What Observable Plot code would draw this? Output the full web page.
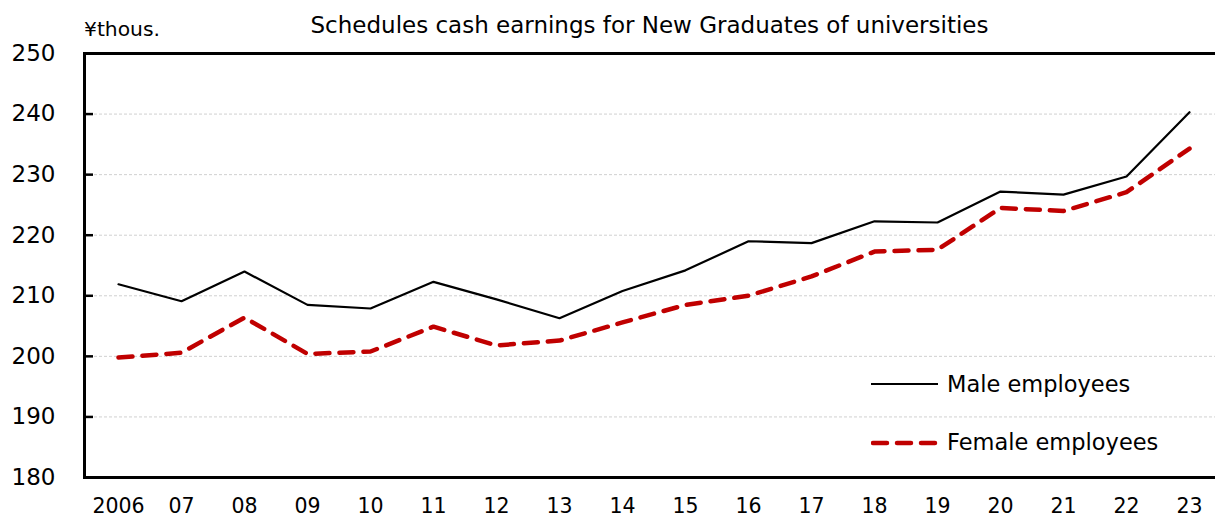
<!DOCTYPE html>
<html><head><meta charset="utf-8">
<script src="https://cdn.jsdelivr.net/npm/d3@7"></script>
<script src="https://cdn.jsdelivr.net/npm/@observablehq/plot@0.6"></script>
<style>
body{margin:0;background:#fff;font-family:"DejaVu Sans",sans-serif;color:#000;}
#wrap{position:relative;width:1215px;height:519px;overflow:hidden;}
#title{position:absolute;left:84px;right:0;top:12px;text-align:center;font-size:23px;}
#unit{position:absolute;left:84px;top:17px;font-size:20.3px;}
.leg{position:absolute;left:871px;height:30px;display:flex;align-items:center;font-size:22.5px;white-space:nowrap;}
.leg svg{margin-right:9px;}
</style></head><body>
<div id="wrap">
  <div id="chart"></div>
  <div id="title">Schedules cash earnings for New Graduates of universities</div>
  <div id="unit">¥thous.</div>
  <div id="legend"></div>
</div>
<script>
const years = ["2006","2007","2008","2009","2010","2011","2012","2013","2014","2015","2016","2017","2018","2019","2020","2021","2022","2023"];
const yearLabels = ["2006","07","08","09","10","11","12","13","14","15","16","17","18","19","20","21","22","23"];
const male   = [211.9,209.1,214.0,208.5,207.9,212.3,209.4,206.3,210.8,214.2,219.0,218.7,222.3,222.1,227.2,226.7,229.7,240.3];
const female = [199.8,200.6,206.4,200.4,200.8,204.9,201.8,202.6,205.6,208.5,210.0,213.2,217.3,217.6,224.5,224.0,227.1,234.3];
const yTicks = [180,190,200,210,220,230,240,250];
const gridTicks = [190,200,210,220,230,240];
const seriesNames = ["Male employees","Female employees"];
const seriesColors = ["#000000","#c00000"];

const W = 1215, H = 519, mL = 84, mT = 53, mB = 42;
const maleData = years.map((yr, i) => ({year: yr, value: male[i]}));
const femaleData = years.map((yr, i) => ({year: yr, value: female[i]}));

const chart = Plot.plot({
  width: W, height: H,
  marginLeft: mL, marginRight: 0, marginTop: mT, marginBottom: mB,
  style: {fontFamily: "DejaVu Sans", background: "#fff", color: "#000"},
  x: {type: "point", domain: years, range: [mL - 1, W + 8], padding: 0.5},
  y: {domain: [180, 250]},
  marks: [
    Plot.ruleY(gridTicks, {stroke: "#d0d0d0", strokeDasharray: "3,2", strokeWidth: 1}),
    Plot.tickY(yTicks, {stroke: "#000", strokeWidth: 2.5, insetRight: W - mL - 9}),
    Plot.axisY({ticks: yTicks, tickSize: 0, tickPadding: 29, fontSize: 23, label: null}),
    Plot.axisX({ticks: years, tickFormat: d => yearLabels[years.indexOf(d)], tickSize: 0, tickPadding: 21, fontSize: 20.5, label: null}),
    Plot.line(maleData, {x: "year", y: "value", stroke: seriesColors[0], strokeWidth: 2.2}),
    Plot.line(femaleData, {x: "year", y: "value", stroke: seriesColors[1], strokeWidth: 4.5, strokeDasharray: "14,10", strokeLinecap: "round"}),
    Plot.ruleY([180, 250], {stroke: "#000", strokeWidth: 3}),
    Plot.frame({anchor: "left", stroke: "#000", strokeWidth: 3})
  ]
});
document.getElementById("chart").appendChild(chart);

const legend = document.getElementById("legend");
const legTops = [369, 427];
seriesNames.forEach((name, i) => {
  const row = document.createElement("div");
  row.className = "leg";
  row.style.top = legTops[i] + "px";
  const dash = i === 1 ? 'stroke-dasharray="14,10" stroke-linecap="round"' : '';
  const sw = i === 1 ? 4.5 : 2.2;
  const lineY = i === 1 ? 7 : 6;
  row.innerHTML = `<svg width="67" height="12"><line x1="${i===1?2:0}" y1="${lineY}" x2="${i===1?65:67}" y2="${lineY}" stroke="${seriesColors[i]}" stroke-width="${sw}" ${dash}/></svg><span>${name}</span>`;
  legend.appendChild(row);
});
</script>
</body></html>
